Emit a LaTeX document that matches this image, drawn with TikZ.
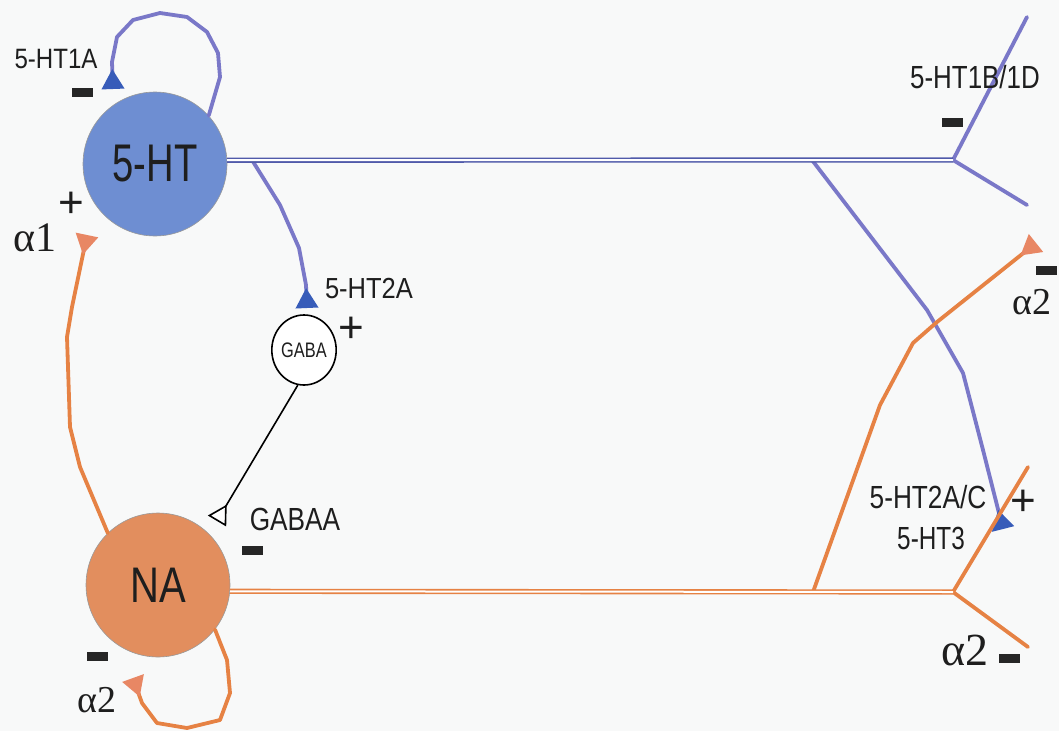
\documentclass[tikz,border=0pt]{standalone}
\usepackage{fontspec}
\setmainfont{Liberation Sans}
\newfontfamily\greekserif{Liberation Serif}
\usetikzlibrary{arrows.meta,shapes.geometric}
\definecolor{bgcol}{RGB}{248,249,249}
\definecolor{htfill}{RGB}{110,142,210}
\definecolor{htline}{RGB}{122,120,200}
\definecolor{htaxon}{RGB}{80,90,170}
\definecolor{htarrow}{RGB}{55,92,185}
\definecolor{nafill}{RGB}{226,142,94}
\definecolor{naline}{RGB}{230,130,68}
\definecolor{naarrow}{RGB}{232,135,100}
\definecolor{txt}{RGB}{30,30,30}
\newcommand\mylab[3]{\fontsize{#1}{#1}\selectfont\scalebox{#2}[1]{#3}}
\newcommand\mygr[2]{\fontsize{#1}{#1}\selectfont\greekserif #2}
\tikzset{
  cellnode/.style={circle, draw=black!40, line width=0.6pt, inner sep=0pt, text=txt},
  bline/.style={draw=htline, line width=3.8pt, line join=round, line cap=round},
  oline/.style={draw=naline, line width=3.8pt, line join=round, line cap=round},
  btip/.style={-{Triangle[reversed,length=20pt,width=22pt,color=htarrow]}},
  otip/.style={-{Triangle[reversed,length=20pt,width=22pt,color=naarrow]}},
  baxon/.style={draw=htaxon, double=white, double distance=2pt, line width=1.6pt},
  oaxon/.style={draw=naline, double=white, double distance=2pt, line width=1.6pt},
  minusbar/.style={rectangle, fill=black!85, minimum width=21pt, minimum height=9pt, inner sep=0pt},
  plussign/.style={inner sep=0pt, text=txt, font=\fontsize{44}{44}\selectfont},
  lab/.style={inner sep=0pt, text=txt},
}
\begin{document}
\begin{tikzpicture}[x=1pt,y=-1pt]
\fill[bgcol] (0,0) rectangle (1059,731);
\useasboundingbox (0,0) rectangle (1059,731);

% cells
\node[cellnode, fill=htfill, minimum size=144pt] (ht) at (155,164) {\mylab{53}{0.72}{5-HT}};
\node[cellnode, fill=nafill, minimum size=144pt] (na) at (158,585) {\mylab{50}{0.8}{NA}};
\node[ellipse, draw=black, fill=white, line width=1.6pt, minimum width=54pt, minimum height=70pt, inner sep=0pt, text=txt] (gaba) at (304,350) {\mylab{21}{0.78}{GABA}};

% coordinates
\coordinate (htbr) at (953,160);
\coordinate (nabr) at (953,592);
\coordinate (hta) at (252,160);
\coordinate (htb) at (812,160);
\coordinate (naa) at (813,592);
\coordinate (bdA) at (1027,17);
\coordinate (bdB) at (1027,205);
\coordinate (naA) at (1028,467);
\coordinate (naB) at (1028,647);
\coordinate (e1a) at (113,89);
\coordinate (e2a) at (307,308);
\coordinate (e2c) at (1003,529);
\coordinate (ea1) at (87,235);
\coordinate (ea2) at (133,678);
\coordinate (ea2r) at (1036,243);
\coordinate (egab) at (217,521);

% blue connectors
\draw[bline, btip] (ht.42) -- (220,77) -- (218,53) -- (207,32) -- (187,17) -- (160,13) -- (133,20) -- (117,37) -- (112,62) -- (e1a);
\draw[bline, btip] (hta) -- (280,205) -- (299,248) -- (306,285) -- (e2a);
\draw[bline, btip] (htb) -- (927,310) -- (963,373) -- (983,450) -- (e2c);
\draw[bline] (htbr) -- (bdA);
\draw[bline] (htbr) -- (bdB);
\draw[baxon] (ht.3) -- (htbr);

% orange connectors
\draw[oline, otip] (na.134) -- (80,467) -- (70,427) -- (67,337) -- (72,307) -- (ea1);
\draw[oline, otip] (na.-38) -- (227,660) -- (230,693) -- (220,720) -- (187,728) -- (157,723) -- (142,703) -- (ea2);
\draw[oline, otip] (naa) -- (880,405) -- (913,343) -- (937,322) -- (ea2r);
\draw[oline] (nabr) -- (naA);
\draw[oline] (nabr) -- (naB);
\draw[oaxon] (na.-5) -- (nabr);

% GABA connector
\draw[black, line width=1.6pt, -{Triangle[reversed,open,length=19pt,width=21pt,fill=white]}] (gaba.-100) -- (egab);

% labels
\node[lab] (l1a) at (56,59) {\mylab{28}{0.86}{5-HT1A}};
\node[lab] (l2a) at (369,289) {\mylab{29}{0.88}{5-HT2A}};
\node[lab] (lgaba) at (295,519) {\mylab{32}{0.82}{GABAA}};
\node[lab] (l1bd) at (975,77) {\mylab{32}{0.81}{5-HT1B/1D}};
\node[lab] (l2ac) at (928,497) {\mylab{32}{0.82}{5-HT2A/C}};
\node[lab] (l3) at (931,538) {\mylab{32}{0.76}{5-HT3}};
\node[lab] (al1) at (35,238) {\mygr{42}{α1}};
\node[lab] (al2a) at (97,700) {\mygr{38}{α2}};
\node[lab] (al2b) at (1032,302) {\mygr{38}{α2}};
\node[lab] (al2c) at (965,650) {\mygr{46}{α2}};

% signs
\node[minusbar] (m1) at (82,92) {};
\node[minusbar] (m2) at (97,656) {};
\node[minusbar] (m3) at (252,550) {};
\node[minusbar] (m4) at (952,122) {};
\node[minusbar] (m5) at (1046,270) {};
\node[minusbar] (m6) at (1009,658) {};
\node[plussign] (p1) at (71,205) {+};
\node[plussign] (p2) at (351,330) {+};
\node[plussign] (p3) at (1023,503) {+};
\end{tikzpicture}
\end{document}
